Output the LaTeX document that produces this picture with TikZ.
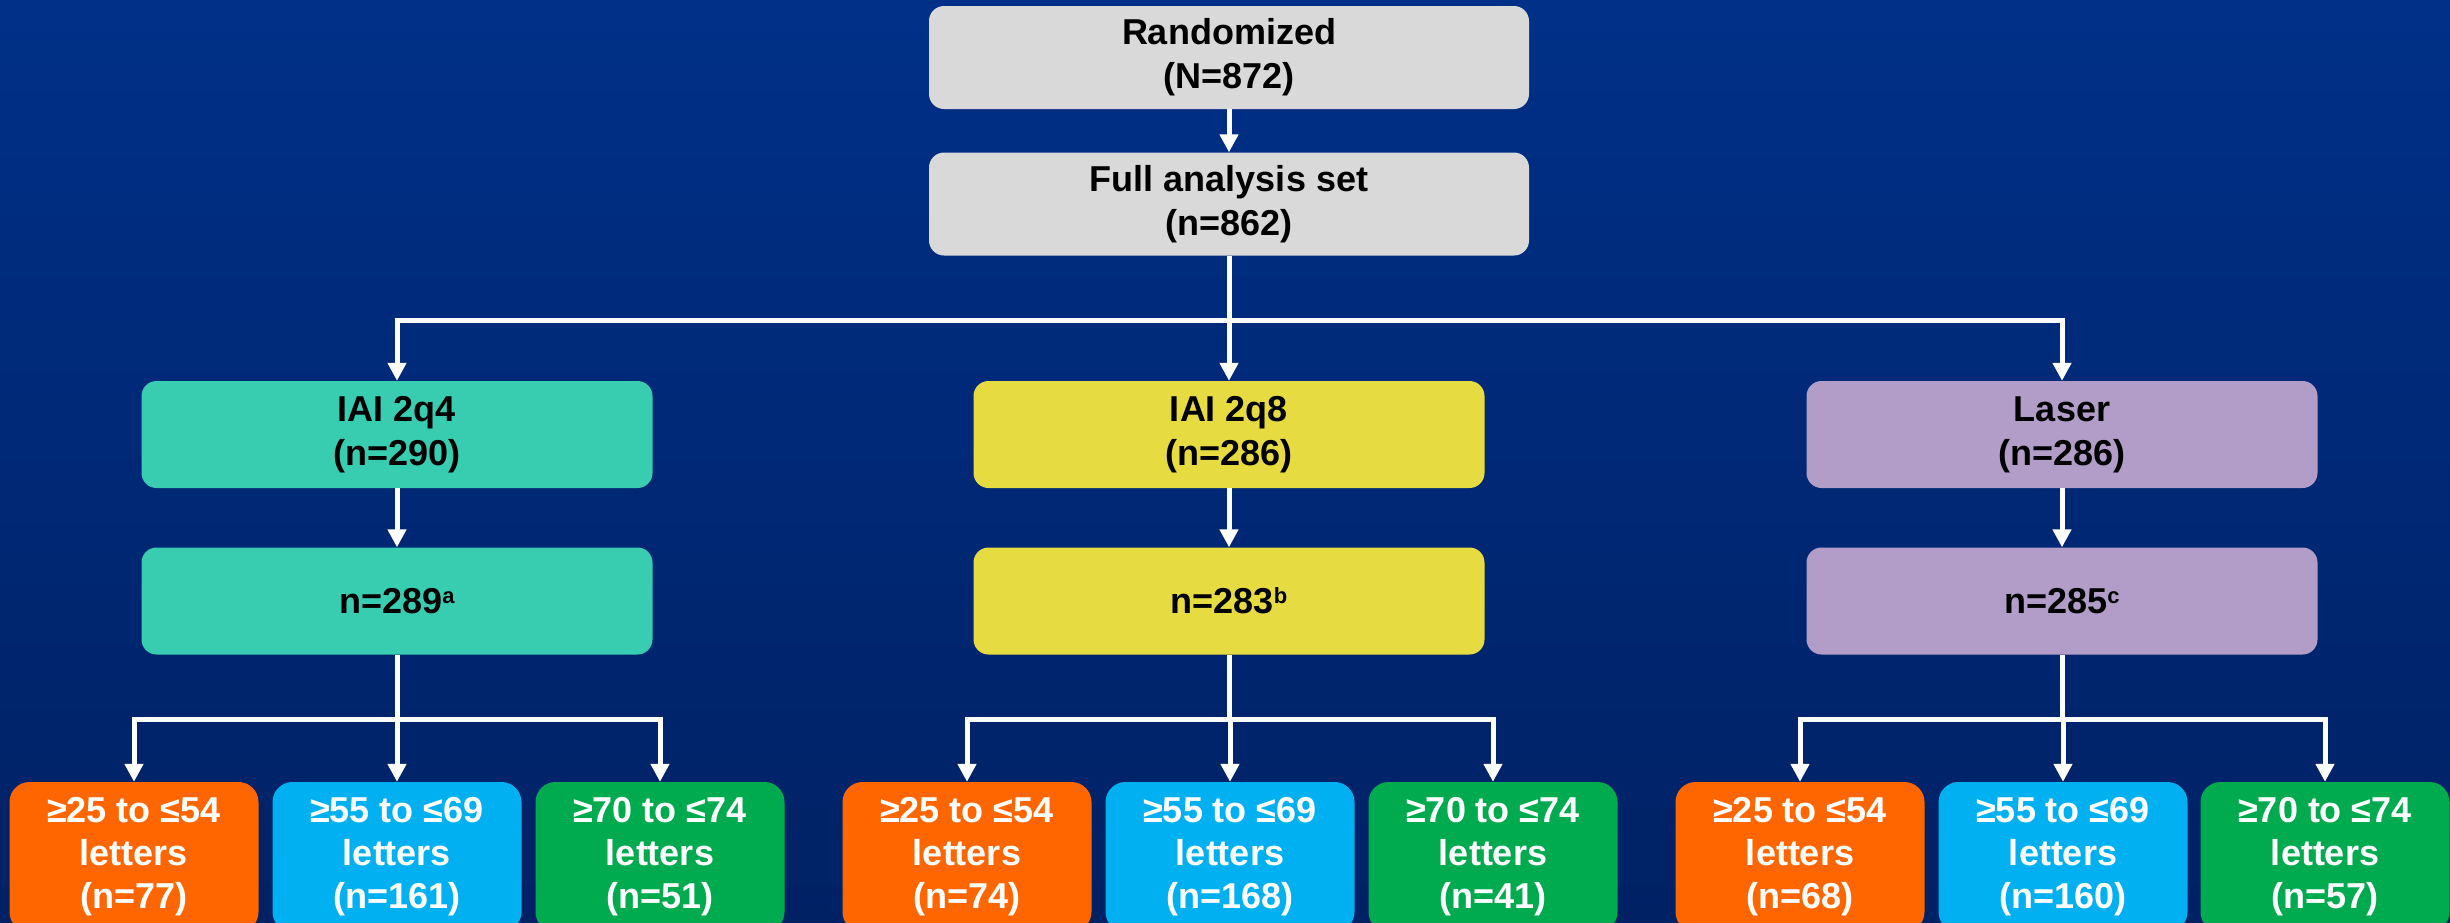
\documentclass[tikz,border=0pt]{standalone}
\usepackage{fontspec}
\setmainfont{Liberation Sans}
\usetikzlibrary{arrows.meta}
\definecolor{bgtop}{RGB}{0,48,136}
\definecolor{bgbot}{RGB}{0,33,100}
\definecolor{boxgray}{RGB}{217,217,217}
\definecolor{cteal}{RGB}{56,205,177}
\definecolor{cyel}{RGB}{230,220,66}
\definecolor{clav}{RGB}{177,157,200}
\definecolor{corange}{RGB}{255,102,0}
\definecolor{cblue}{RGB}{0,176,240}
\definecolor{cgreen}{RGB}{0,170,78}
\newcommand\supmark[1]{\raisebox{10pt}{\fontsize{22}{22}\selectfont #1}}
\tikzset{
 box/.style={rounded corners=15pt, minimum width=511pt, minimum height=107pt, inner sep=0pt, align=center, text=black, font=\fontsize{36}{44}\selectfont\bfseries},
 graybox/.style={box, fill=boxgray, minimum width=600pt, minimum height=103pt},
 catbox/.style={rounded corners=20pt, minimum width=249pt, minimum height=150pt, inner sep=0pt, align=center, text=white, font=\fontsize{36}{43}\selectfont\bfseries},
 link/.style={draw=white, line width=5pt},
 arr/.style={link, -{Triangle[width=18pt,length=18pt]}},
}
\begin{document}
\begin{tikzpicture}[x=1pt,y=-1pt]
\useasboundingbox (0,0) rectangle (2450,922);
\clip (0,0) rectangle (2450,922);
\shade[top color=bgtop, bottom color=bgbot] (0,0) rectangle (2450,922);

\node[graybox] (rand) at (1229,57.5) {Randomized\\(N=872)};
\node[graybox] (fas) at (1229,204) {Full analysis set\\(n=862)};

\node[box, fill=cteal] (g1) at (397,434.5) {IAI 2q4\\(n=290)};
\node[box, fill=cyel] (g2) at (1229,434.5) {IAI 2q8\\(n=286)};
\node[box, fill=clav] (g3) at (2062,434.5) {Laser\\(n=286)};

\node[box, fill=cteal] (s1) at (397,601) {n=289\supmark{a}};
\node[box, fill=cyel] (s2) at (1229,601) {n=283\supmark{b}};
\node[box, fill=clav] (s3) at (2062,601) {n=285\supmark{c}};

\node[catbox, fill=corange] (b11) at (134,857) {≥25 to ≤54\\letters\\(n=77)};
\node[catbox, fill=cblue] (b12) at (397,857) {≥55 to ≤69\\letters\\(n=161)};
\node[catbox, fill=cgreen] (b13) at (660,857) {≥70 to ≤74\\letters\\(n=51)};

\node[catbox, fill=corange] (b21) at (967,857) {≥25 to ≤54\\letters\\(n=74)};
\node[catbox, fill=cblue] (b22) at (1230,857) {≥55 to ≤69\\letters\\(n=168)};
\node[catbox, fill=cgreen] (b23) at (1493,857) {≥70 to ≤74\\letters\\(n=41)};

\node[catbox, fill=corange] (b31) at (1800,857) {≥25 to ≤54\\letters\\(n=68)};
\node[catbox, fill=cblue] (b32) at (2063,857) {≥55 to ≤69\\letters\\(n=160)};
\node[catbox, fill=cgreen] (b33) at (2325,857) {≥70 to ≤74\\letters\\(n=57)};

\draw[arr] (rand) -- (fas);
\coordinate (split) at (1229,320);
\draw[link] (fas.south) -- (split);
\draw[arr] (split) -| (g1.north);
\draw[arr] (split) -- (g2.north);
\draw[arr] (split) -| (g3.north);

\draw[arr] (g1) -- (s1);
\draw[arr] (g2) -- (s2);
\draw[arr] (g3) -- (s3);

\coordinate (sp1) at (397,719);
\coordinate (sp2) at (1229,719);
\coordinate (sp3) at (2062,719);
\draw[link] (s1.south) -- (sp1);
\draw[link] (s2.south) -- (sp2);
\draw[link] (s3.south) -- (sp3);
\draw[arr] (sp1) -| (b11.north);
\draw[arr] (sp1) -| (b12.north);
\draw[arr] (sp1) -| (b13.north);
\draw[arr] (sp2) -| (b21.north);
\draw[arr] (sp2) -| (b22.north);
\draw[arr] (sp2) -| (b23.north);
\draw[arr] (sp3) -| (b31.north);
\draw[arr] (sp3) -| (b32.north);
\draw[arr] (sp3) -| (b33.north);
\end{tikzpicture}
\end{document}
